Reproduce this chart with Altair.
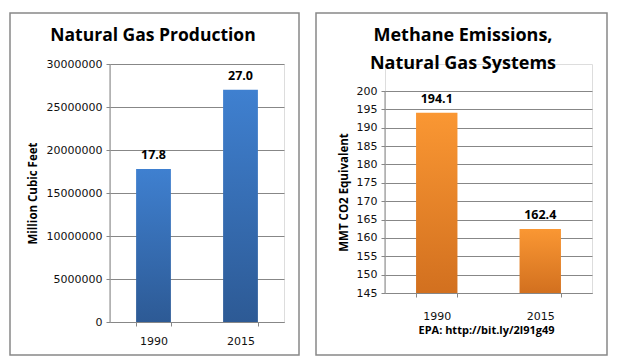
import altair as alt
import pandas as pd

years = ["1990", "2015"]
gas_production = [17800000, 27000000]
methane = [194.1, 162.4]
gas_ticks = [0, 5000000, 10000000, 15000000, 20000000, 25000000, 30000000]
methane_ticks = [145, 150, 155, 160, 165, 170, 175, 180, 185, 190, 195, 200]

gas_df = pd.DataFrame({"year": years, "value": gas_production})
gas_df["label"] = (gas_df["value"] / 1e6).map(lambda v: f"{v:.1f}")
met_df = pd.DataFrame({"year": years, "value": methane})
met_df["label"] = met_df["value"].map(lambda v: f"{v:.1f}")

GRID = "#878787"
TICKFONT = "DejaVu Sans"
TITLEFONT = "Open Sans"

blue = alt.LinearGradient(gradient="linear", x1=0, y1=0, x2=0, y2=1,
                          stops=[alt.GradientStop(color="#3f80d0", offset=0),
                                 alt.GradientStop(color="#2d5a95", offset=1)])
orange = alt.LinearGradient(gradient="linear", x1=0, y1=0, x2=0, y2=1,
                            stops=[alt.GradientStop(color="#fa9733", offset=0),
                                   alt.GradientStop(color="#d2701f", offset=1)])


def panel(df, ticks, domain, ytitle, fill, w, h, top, box, title, title_xy, title_size,
          band_pad, label_offset, title_pad, footer=None):
    # the plot area occupies rows [top, h] of the group
    xax = alt.Axis(title=None, labelAngle=0, tickBand="extent", domainColor=GRID,
                   tickColor=GRID, tickSize=4, labelFont=TICKFONT, labelFontSize=11,
                   labelColor="#111", labelPadding=label_offset)
    yax = alt.Axis(title=ytitle, values=ticks, format="d", grid=True, gridColor=GRID,
                   domain=False, tickColor=GRID, tickSize=4, labelFont=TICKFONT,
                   labelFontSize=11, labelColor="#111", labelPadding=4, labelOverlap=False,
                   titleFont=TITLEFONT, titleFontSize=11.5, titleFontWeight="bold",
                   titleColor="#000", titlePadding=title_pad, titleY=(top + h) / 2)
    x = alt.X("year:N", axis=xax, scale=alt.Scale(paddingInner=band_pad, paddingOuter=band_pad / 2))
    yscale = alt.Scale(domain=domain, zero=False, clamp=True, nice=False, range=[h, top])
    y = alt.Y("value:Q", axis=yax, scale=yscale)
    bars = alt.Chart(df).mark_bar(color=fill).encode(x=x, y=y)
    labels = alt.Chart(df).mark_text(baseline="bottom", dy=-7, font=TITLEFONT, fontSize=12.5,
                                     fontWeight="bold", color="#000").encode(
        x=x, y=y, text="label:N")
    dom_df = pd.DataFrame({"value": [domain[0]], "hi": [domain[1]]})
    dom = alt.Chart(dom_df).mark_rule(color=GRID, strokeWidth=1).encode(
        x=alt.value(0), y=y, y2="hi:Q")
    border = alt.Chart(alt.Data(values=[{"a": 1}])).mark_rect(
        fill=None, stroke="#888888", strokeWidth=1.5).encode(
        x=alt.value(box[0]), x2=alt.value(box[1]), y=alt.value(box[2]), y2=alt.value(box[3]))
    ttl = alt.Chart(alt.Data(values=[{"a": 1}])).mark_text(
        text=title, font=TITLEFONT, fontSize=title_size, fontWeight="bold", color="#000",
        baseline="middle", align="center", lineHeight=28).encode(
        x=alt.value(title_xy[0]), y=alt.value(title_xy[1]))
    layers = [border, ttl, bars, dom, labels]
    if footer:
        foot = alt.Chart(alt.Data(values=[{"t": footer}])).mark_text(
            font=TITLEFONT, fontSize=11, fontWeight="bold", color="#000", baseline="middle").encode(
            x=alt.value(w / 2 - 2), y=alt.value(h + 38), text="t:N")
        layers.append(foot)
    return alt.layer(*layers).properties(width=w, height=h)


left = panel(gas_df, gas_ticks, [0, 30000000], "Million Cubic Feet", blue, 174, 258, 0,
             (-100, 189, -51, 291), "Natural Gas Production", (43, -28), 17.5, 0.6, 9, 8)
right = panel(met_df, methane_ticks, [145, 200], "MMT CO2 Equivalent", orange, 207, 229, 27,
              (-69, 222, -51, 291), ["Methane Emissions,", "Natural Gas Systems"], (78, -28), 18,
              0.6, 13, 7, footer="EPA: http://bit.ly/2l91g49")

chart = alt.hconcat(left, right, spacing=13).properties(
    padding={"left": 0, "top": 3, "right": 0, "bottom": 0}).configure_view(
    stroke=None).configure(background="white")

chart.save("out.html", embed_options={"renderer": "svg", "actions": False})
